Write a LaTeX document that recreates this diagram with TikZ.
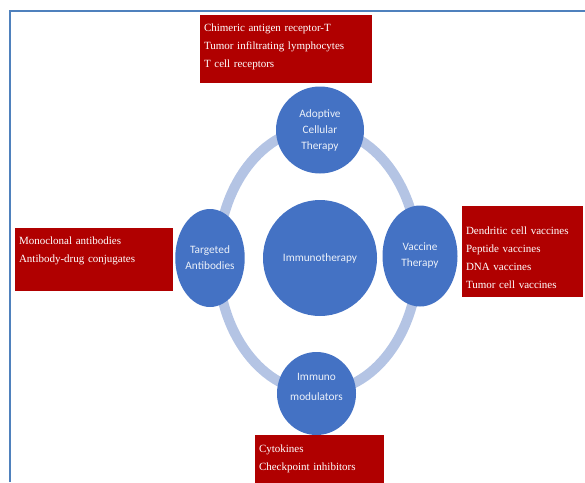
\documentclass[tikz,border=0pt]{standalone}
\usepackage{fontspec}
\setmainfont{Liberation Serif}
\newfontfamily\calibri{Carlito}
\usetikzlibrary{shapes.geometric}

\definecolor{framebl}{RGB}{79,129,189}
\definecolor{ringbl}{RGB}{180,196,228}
\definecolor{discbl}{RGB}{68,114,196}
\definecolor{boxred}{RGB}{176,0,0}

\begin{document}
\begin{tikzpicture}[x=1pt, y=-1pt,
    % 外框（只有左边和上边）
    frame/.style={draw=framebl, line width=2.5pt},
    % 连接四个圆的浅色圆环
    ring/.style={draw=ringbl, line width=10pt},
    % 蓝色圆（略带椭圆）
    disc/.style={ellipse, fill=discbl, inner sep=0pt, align=center,
        text=white!90!discbl, font=\calibri\fontsize{11.3}{16}\selectfont},
    % 红色说明框
    redbox/.style={fill=boxred, text=white, align=left, inner xsep=4pt,
        inner ysep=4pt, font=\fontsize{11}{17.8}\selectfont}
]

    % 0. 固定画布大小
    \useasboundingbox (0,0) rectangle (585,482);

    % 1. 外框
    \draw[frame] (10,482) -- (10,11) -- (585,11);

    % 2. 关键坐标
    \def\cx{318}      % 中心横坐标
    \def\cy{258}      % 中心纵坐标
    \def\ringRX{100}  % 圆环横半径
    \def\ringRY{132}  % 圆环纵半径

    % 3. 圆环（画在圆的下面）
    \draw[ring] (\cx,\cy+2) ellipse [x radius=\ringRX, y radius=\ringRY];

    % 4. 五个蓝色圆
    \node[disc, minimum width=114, minimum height=116] (immuno) at (\cx+2,\cy) {Immunotherapy};
    \node[disc, minimum width=88, minimum height=87] (adoptive) at (320,130) {Adoptive\\Cellular\\Therapy};
    \node[disc, minimum width=66, minimum height=98] (targeted) at (210,258) {Targeted\\Antibodies};
    \node[disc, minimum width=75, minimum height=101] (vaccine) at (420,256) {Vaccine\\Therapy};
    \node[disc, minimum width=79, minimum height=83, text depth=12.5pt] (modul) at (316.5,393.5) {Immuno\\[4pt]modulators};

    % 5. 红色说明框
    \node[redbox, text width=164, minimum height=68, text depth=42pt] (cartbox) at (286,49)
        {Chimeric antigen receptor-T\\Tumor infiltrating lymphocytes\\T cell receptors};
    \node[redbox, text width=150, minimum height=63, text depth=38pt] (mabbox) at (94,259.5)
        {Monoclonal antibodies\\Antibody-drug conjugates};
    \node[redbox, text width=113, minimum height=91, text height=20pt] (vacbox) at (522.5,251.5)
        {Dendritic cell vaccines\\Peptide vaccines\\DNA vaccines\\Tumor cell vaccines};
    \node[redbox, text width=121, minimum height=48, anchor=north] (cytbox) at (319.5,435)
        {Cytokines\\Checkpoint inhibitors};

\end{tikzpicture}
\end{document}
